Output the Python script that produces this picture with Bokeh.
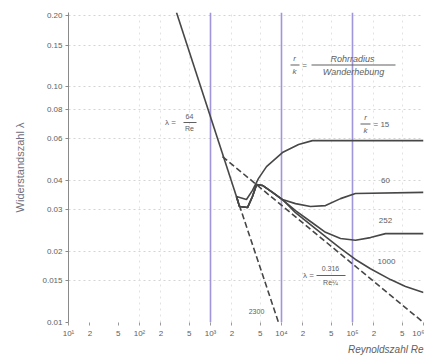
from bokeh.plotting import figure
from bokeh.models import Label, FixedTicker, Grid, BoxAnnotation, Title
from bokeh.embed import file_html
from bokeh.resources import INLINE

# ---------------- data ----------------
x_ticks = [10, 20, 50, 100, 200, 500, 1000, 2000, 5000, 10000, 20000, 50000,
           100000, 200000, 500000, 1000000]
x_tick_labels = ["10¹", "2", "5", "10²", "2", "5", "10³", "2", "5", "10⁴", "2", "5",
                 "10⁵", "2", "5", "10⁶"]
y_ticks = [0.01, 0.015, 0.02, 0.03, 0.04, 0.06, 0.08, 0.10, 0.15, 0.20]
y_tick_labels = ["0.01", "0.015", "0.02", "0.03", "0.04", "0.06", "0.08", "0.10", "0.15", "0.20"]

# laminar law (solid) and its dashed continuation
re_lam = [332, 2320]
lam_lam = [0.206, 0.0342]
re_lam_ext = [2320, 9080]
lam_lam_ext = [0.0342, 0.0100]

# Blasius smooth-pipe law (dashed)
re_blas = [1475, 1000000]
lam_blas = [0.0505, 0.0100]

# roughness curves r/k
re_15 = [2320, 3210, 3900, 4750, 6150, 10300, 17400, 27300, 1000000]
lam_15 = [0.0342, 0.0332, 0.0363, 0.0408, 0.0458, 0.0525, 0.0568, 0.0590, 0.0590]

re_60 = [2320, 2560, 3320, 3900, 4450, 5400, 7470, 10300, 15750, 25600, 41700,
         67800, 110000, 1000000]
lam_60 = [0.0342, 0.0310, 0.0307, 0.0342, 0.0384, 0.0381, 0.0356, 0.0332, 0.0319,
          0.0310, 0.0313, 0.0335, 0.0352, 0.0356]

re_252 = [2320, 2560, 3320, 3900, 4450, 5400, 7470, 10300, 15750, 25600, 41700,
          67800, 110000, 179000, 292000, 1000000]
lam_252 = [0.0342, 0.0310, 0.0307, 0.0342, 0.0384, 0.0381, 0.0356, 0.0332, 0.0298,
           0.0268, 0.0241, 0.0227, 0.0223, 0.0229, 0.0238, 0.0238]

re_1000 = [2320, 2560, 3320, 3900, 4450, 5400, 7470, 10300, 15750, 25600, 41700,
           67800, 110000, 179000, 343000, 558000, 1000000]
lam_1000 = [0.0342, 0.0310, 0.0307, 0.0342, 0.0384, 0.0381, 0.0356, 0.0332, 0.0292,
            0.0260, 0.0231, 0.0206, 0.0185, 0.0169, 0.0152, 0.0142, 0.0134]

# ---------------- styling ----------------
LINE = "#474747"
TXT = "#606060"
PURPLE = "#8f84d6"
FONT = "Liberation Sans"

p = figure(width=424, height=359, x_axis_type="log", y_axis_type="log",
           x_range=(10, 1000000), y_range=(0.01, 0.206),
           output_backend="svg", toolbar_location=None,
           min_border_left=68, min_border_right=1, min_border_top=12, min_border_bottom=37)
p.outline_line_color = None
p.background_fill_color = "white"
p.border_fill_color = "white"
p.xgrid.visible = False
p.ygrid.visible = False

# grids
p.add_layout(Grid(dimension=1, ticker=FixedTicker(ticks=y_ticks),
                  grid_line_color="#d4d4d4", grid_line_dash="2 3", grid_line_width=1))
p.add_layout(Grid(dimension=0,
                  ticker=FixedTicker(ticks=[100, 200, 500, 2000, 5000, 20000, 50000, 200000, 500000]),
                  grid_line_color="#e2e2e2", grid_line_dash="2 4", grid_line_width=1))
p.add_layout(Grid(dimension=0, ticker=FixedTicker(ticks=[1000, 10000, 100000, 1000000]),
                  grid_line_color=PURPLE, grid_line_width=1.6, grid_line_alpha=0.85))

# axes
xa = p.xaxis[0]
xa.ticker = FixedTicker(ticks=x_ticks)
xa.major_label_overrides = {float(t): l for t, l in zip(x_ticks, x_tick_labels)}
xa.axis_line_color = None
xa.major_tick_line_color = "#999999"
xa.major_tick_out = 3
xa.major_tick_in = 0
xa.minor_tick_line_color = None
xa.major_label_text_font = FONT
xa.major_label_text_font_size = "8px"
xa.major_label_text_color = TXT
xa.major_label_standoff = 3

ya = p.yaxis[0]
ya.ticker = FixedTicker(ticks=y_ticks)
ya.major_label_overrides = {float(t): l for t, l in zip(y_ticks, y_tick_labels)}
ya.axis_line_color = "#8a8a8a"
ya.major_tick_line_color = "#8a8a8a"
ya.major_tick_out = 3
ya.major_tick_in = 0
ya.minor_tick_line_color = None
ya.major_label_text_font = FONT
ya.major_label_text_font_size = "8px"
ya.major_label_text_color = TXT
ya.major_label_standoff = 3
ya.axis_label = "Widerstandszahl λ"
ya.axis_label_text_font = FONT
ya.axis_label_text_font_size = "11px"
ya.axis_label_text_font_style = "normal"
ya.axis_label_text_color = "#70707e"
ya.axis_label_standoff = 13

# x-axis title, right aligned below the tick labels
p.add_layout(Title(text="Reynoldszahl Re", align="right", text_font=FONT,
                   text_font_size="10px", text_font_style="italic",
                   text_color=TXT, standoff=2, offset=0), "below")

# curves
p.line(re_lam, lam_lam, line_color=LINE, line_width=1.6)
p.line(re_lam_ext, lam_lam_ext, line_color=LINE, line_width=1.6, line_dash="6 3")
p.line(re_blas, lam_blas, line_color=LINE, line_width=1.6, line_dash="6 3")
for rr, ll in [(re_15, lam_15), (re_60, lam_60), (re_252, lam_252), (re_1000, lam_1000)]:
    p.line(rr, ll, line_color=LINE, line_width=1.6)


# ---------------- annotations (positions given in page pixels) ----------------
def X(px):
    return 10 ** (1 + (px - 68) / 71.0)


def Y(py):
    return 10 ** (-2 + (322 - py) / 236.0)


def lab(text, px, py, size="8px", align="center", style="normal", color=TXT):
    p.add_layout(Label(x=X(px), y=Y(py), text=text, text_align=align,
                       text_baseline="middle", text_font=FONT, text_font_size=size,
                       text_font_style=style, text_color=color))


def bar(px0, px1, py):
    p.add_layout(BoxAnnotation(left=X(px0), right=X(px1), top=Y(py - 0.5), bottom=Y(py + 0.5),
                               fill_color=TXT, fill_alpha=1, line_color=None))


# lambda = 64/Re
lab("λ =", 170, 122)
lab("64", 189, 116, size="7px")
lab("Re", 189, 128, size="7px")
bar(183, 196, 122)

# r/k = Rohrradius / Wanderhebung
lab("r", 294, 58, style="italic")
lab("k", 294, 71, style="italic")
bar(290, 299, 64.5)
lab("=", 304, 64.5)
lab("Rohrradius", 352, 58, size="9px", style="italic")
lab("Wanderhebung", 353, 71, size="9px", style="italic")
bar(311, 395, 64.5)

# r/k = 15
lab("r", 365, 117, style="italic")
lab("k", 365, 130, style="italic")
bar(360, 370, 123.5)
lab("= 15", 373, 123.5, align="left")

lab("60", 385, 180)
lab("252", 385, 220)
lab("1000", 386, 261)

# Blasius
lab("λ =", 308, 275)
lab("0.316", 330, 268, size="7px")
lab("Re¼", 330, 282, size="7px")
bar(316, 345, 275)

lab("2300", 256, 311, size="7px")

open("out.html", "w").write(file_html(p, INLINE))
